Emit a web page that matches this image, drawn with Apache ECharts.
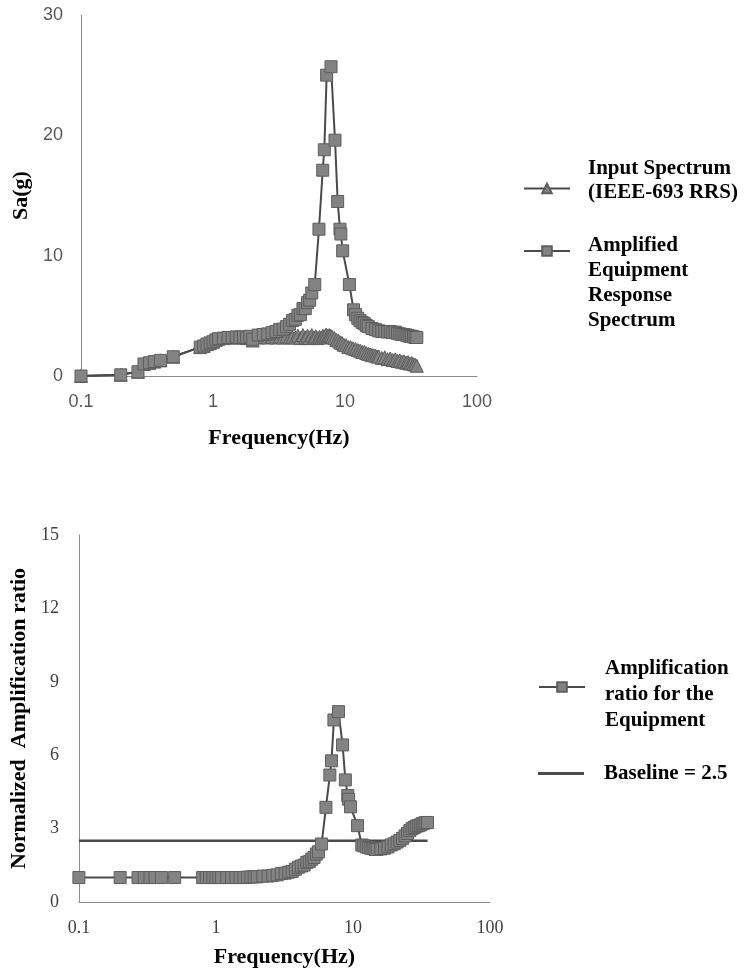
<!DOCTYPE html>
<html>
<head>
<meta charset="utf-8">
<script src="https://cdn.jsdelivr.net/npm/echarts@6/dist/echarts.min.js"></script>
<style>
  html, body { margin: 0; padding: 0; background: #ffffff; }
  #chart { width: 751px; height: 976px; }
</style>
</head>
<body>
<div id="chart"></div>
<script>
// Input spectrum (IEEE-693 RRS), Sa in g
const inputFreq = [0.1, 0.2, 0.27, 0.3, 0.33, 0.36, 0.4, 0.5, 0.8, 0.85, 0.9, 0.95, 1.0, 1.05, 1.1,
  1.2, 1.3, 1.4, 1.5, 1.6, 1.7, 1.8, 1.9, 2.0, 2.2, 2.4, 2.6, 2.8, 3.0, 3.2, 3.4, 3.6, 3.8,
  4.0, 4.2, 4.4, 4.6, 4.8, 5.0, 5.2, 5.4, 5.6, 5.8, 6.0, 6.2, 6.4, 6.6, 6.8, 7.0, 7.2, 7.4, 7.6, 7.8, 8.0,
  8.3, 8.6, 8.9, 9.2, 9.5, 9.8, 10.2, 10.6, 11.0, 11.5, 12.0, 12.5, 13.0, 13.5, 14.0, 14.5, 15.0, 15.5,
  16, 16.5, 17, 17.5, 18, 19, 20, 21, 22, 23, 24, 25, 26, 27, 28, 29, 30, 31, 32, 33, 34, 35];
const inputSa = [0, 0.1, 0.35, 1.0, 1.1, 1.2, 1.3, 1.6, 2.4, 2.5, 2.65, 2.75, 2.85, 3.0, 3.1,
  3.15, 3.2, 3.2, 3.25, 3.2, 3.2, 3.15, 3.2, 2.95, 3.2, 3.25, 3.2, 3.25, 3.2, 3.25, 3.2, 3.3, 3.2,
  3.25, 3.2, 3.35, 3.15, 3.4, 3.2, 3.35, 3.15, 3.4, 3.2, 3.3, 3.15, 3.25, 3.2, 3.35, 3.3, 3.45, 3.35, 3.4, 3.35, 3.25,
  3.15, 3.0, 2.95, 2.8, 2.75, 2.6, 2.55, 2.4, 2.4, 2.3, 2.25, 2.15, 2.1, 2.0, 2.0, 1.9, 1.85, 1.8,
  1.75, 1.72, 1.7, 1.62, 1.62, 1.5, 1.55, 1.4, 1.45, 1.32, 1.38, 1.25, 1.3, 1.18, 1.22, 1.1, 1.15, 1.03, 1.08, 0.98, 0.95, 0.85];

// Equipment response: spectrum (g) and normalized amplification ratio
const respFreq = [0.1, 0.2, 0.27, 0.3, 0.33, 0.36, 0.4, 0.5, 0.8, 0.85, 0.9, 0.95, 1.0, 1.05, 1.1,
  1.2, 1.3, 1.4, 1.5, 1.6, 1.7, 1.8, 1.9, 2.0, 2.2, 2.4, 2.6, 2.8, 3.0, 3.2, 3.4, 3.6, 3.8,
  4.0, 4.2, 4.4, 4.6, 4.8, 5.0, 5.2, 5.4, 5.6, 5.9, 6.35, 6.78, 6.97, 7.26, 7.84, 8.4, 8.8, 9.16, 9.3,
  9.6, 10.8, 11.6, 12.0, 12.5, 13.0, 13.5, 14.0, 14.5, 15.0, 16, 17, 18, 19, 20, 21, 22, 23, 24, 25,
  26, 27, 28, 29, 30, 31, 32, 33, 34, 35];
const respSa = [0, 0.1, 0.35, 1.0, 1.1, 1.2, 1.3, 1.6, 2.4, 2.5, 2.65, 2.75, 2.85, 3.0, 3.1,
  3.15, 3.2, 3.2, 3.25, 3.2, 3.25, 3.2, 3.3, 3.05, 3.4, 3.45, 3.5, 3.6, 3.7, 3.85, 3.9, 4.1, 4.3,
  4.6, 4.7, 5.05, 5.1, 5.6, 5.6, 6.1, 6.3, 6.9, 7.6, 12.2, 17.1, 18.8, 25.0, 25.7, 19.6, 14.5, 12.2, 11.8,
  10.4, 7.6, 5.5, 5.1, 4.8, 4.6, 4.45, 4.35, 4.2, 4.1, 3.95, 3.85, 3.75, 3.7, 3.7, 3.65, 3.7, 3.6, 3.65, 3.55,
  3.5, 3.45, 3.45, 3.4, 3.35, 3.3, 3.3, 3.25, 3.2, 3.2];
const respRatio = [1.0, 1.0, 1.0, 1.0, 1.0, 1.0, 1.0, 1.0, 1.0, 1.0, 1.0, 1.0, 1.0, 1.0, 1.0,
  1.0, 1.0, 1.0, 1.0, 1.0, 1.02, 1.02, 1.03, 1.03, 1.06, 1.06, 1.09, 1.11, 1.16, 1.18, 1.22, 1.25, 1.34,
  1.42, 1.47, 1.51, 1.62, 1.65, 1.75, 1.82, 1.96, 2.05, 2.37, 3.87, 5.19, 5.77, 7.44, 7.78, 6.42, 4.99, 4.35, 4.2,
  3.89, 3.12, 2.33, 2.3, 2.25, 2.22, 2.2, 2.18, 2.15, 2.15, 2.17, 2.2, 2.25, 2.33, 2.38, 2.45, 2.52, 2.6, 2.7, 2.8,
  2.92, 3.0, 3.05, 3.1, 3.12, 3.15, 3.2, 3.22, 3.25, 3.25];

// Reference level for the amplification ratio
const baselineFreq = [0.1, 35];
const baselineRatio = [2.5, 2.5];

const xTickLabels = ['0.1', '1', '10', '100'];

const seriesNames = {
  input: 'Input Spectrum (IEEE-693 RRS)',
  amplified: 'Amplified Equipment Response Spectrum',
  ratio: 'Amplification ratio for the Equipment',
  baseline: 'Baseline = 2.5'
};
// Legend labels wrapped over several lines
const legendLines = {};
legendLines[seriesNames.input] = ['Input Spectrum', '(IEEE-693 RRS)'];
legendLines[seriesNames.amplified] = ['Amplified', 'Equipment', 'Response', 'Spectrum'];
legendLines[seriesNames.ratio] = ['Amplification', 'ratio for the', 'Equipment'];
legendLines[seriesNames.baseline] = ['Baseline = 2.5'];

function pairs(xs, ys) { return xs.map((x, i) => [x, ys[i]]); }

const markerStyle = { color: '#838383', borderColor: '#5e5e5e', borderWidth: 1 };
const curveLine = { color: '#4a4a4a', width: 2 };
const serif = 'Liberation Serif';

function logLabel(v) {
  const k = Math.round(Math.log10(v)) + 1;
  return xTickLabels[k] !== undefined ? xTickLabels[k] : '';
}

function xAxisFor(gridIndex, font, color, gap) {
  return {
    type: 'log', logBase: 10, gridIndex: gridIndex, min: 0.1, max: 100,
    name: 'Frequency(Hz)', nameLocation: 'middle', nameGap: gap,
    nameTextStyle: { fontFamily: serif, fontWeight: 'bold', fontSize: 22, color: '#000' },
    axisLine: { show: true, lineStyle: { color: '#8c8c8c', width: 1 } },
    axisTick: { show: false }, splitLine: { show: false }, minorTick: { show: false },
    axisLabel: { fontFamily: font, fontSize: 18, color: color, margin: 17, formatter: logLabel }
  };
}

// One legend block per series; spacer lines shift the text relative to the icon
function legendFor(name, left, top, lineH, padTop, padBottom, padLeft, extra) {
  const lines = legendLines[name].map(s => '{t|' + s + '}');
  if (padTop > 0) lines.unshift('{s|}');
  if (padBottom > 0) lines.push('{b|}');
  return Object.assign({
    data: [name], left: left, top: top, orient: 'vertical', padding: 0,
    itemWidth: 46, itemHeight: 12, selectedMode: false,
    formatter: () => lines.join('\n'),
    textStyle: {
      padding: [0, 0, 0, padLeft],
      rich: {
        t: { fontFamily: serif, fontWeight: 'bold', fontSize: 21, color: '#000', lineHeight: lineH },
        s: { fontSize: 1, lineHeight: padTop, height: padTop },
        b: { fontSize: 1, lineHeight: padBottom, height: padBottom }
      }
    }
  }, extra || {});
}

const chart = echarts.init(document.getElementById('chart'), null, { renderer: 'canvas' });

chart.setOption({
  animation: false,
  backgroundColor: '#ffffff',
  grid: [
    { left: 81, top: 15, width: 396, height: 361 },
    { left: 75, top: 535, width: 415, height: 367 }
  ],
  xAxis: [
    xAxisFor(0, 'Liberation Sans', '#595959', 51),
    xAxisFor(1, serif, '#404040', 44)
  ],
  yAxis: [
    {
      type: 'value', gridIndex: 0, min: 0, max: 30, interval: 10,
      name: 'Sa(g)', nameLocation: 'middle', nameGap: 45,
      nameTextStyle: { fontFamily: serif, fontWeight: 'bold', fontSize: 22, color: '#000' },
      axisLine: { show: true, lineStyle: { color: '#8c8c8c', width: 1 } },
      axisTick: { show: false }, splitLine: { show: false },
      axisLabel: { fontFamily: 'Liberation Sans', fontSize: 18, color: '#595959', margin: 18 }
    },
    {
      type: 'value', gridIndex: 1, min: 0, max: 15, interval: 3,
      name: 'Normalized  Amplification ratio', nameLocation: 'middle', nameGap: 45,
      nameTextStyle: { fontFamily: serif, fontWeight: 'bold', fontSize: 22, color: '#000' },
      axisLine: { show: true, lineStyle: { color: '#8c8c8c', width: 1 } },
      axisTick: { show: false }, splitLine: { show: false },
      axisLabel: { fontFamily: serif, fontSize: 18, color: '#404040', margin: 20 }
    }
  ],
  legend: [
    legendFor(seriesNames.input, 523, 158, 24, 0, 16, 13),
    legendFor(seriesNames.amplified, 523, 169, 25, 64, 0, 13),
    legendFor(seriesNames.ratio, 538, 640, 26, 16, 0, 15),
    legendFor(seriesNames.baseline, 538, 763, 26, 0, 0, 15,
      { icon: 'rect', itemHeight: 3, itemStyle: { color: '#4a4a4a' } })
  ],
  series: [
    {
      name: seriesNames.input, type: 'line', xAxisIndex: 0, yAxisIndex: 0,
      data: pairs(inputFreq, inputSa),
      symbol: 'triangle', symbolSize: 13, showSymbol: true, showAllSymbol: true,
      itemStyle: markerStyle, lineStyle: curveLine, z: 2
    },
    {
      name: seriesNames.amplified, type: 'line', xAxisIndex: 0, yAxisIndex: 0,
      data: pairs(respFreq, respSa),
      symbol: 'rect', symbolSize: 12, showSymbol: true, showAllSymbol: true,
      itemStyle: markerStyle, lineStyle: curveLine, z: 3
    },
    {
      name: seriesNames.baseline, type: 'line', xAxisIndex: 1, yAxisIndex: 1,
      data: pairs(baselineFreq, baselineRatio),
      symbol: 'none', itemStyle: { color: '#4a4a4a' },
      lineStyle: { color: '#4a4a4a', width: 2.5 }, z: 2
    },
    {
      name: seriesNames.ratio, type: 'line', xAxisIndex: 1, yAxisIndex: 1,
      data: pairs(respFreq, respRatio),
      symbol: 'rect', symbolSize: 12, showSymbol: true, showAllSymbol: true,
      itemStyle: markerStyle, lineStyle: curveLine, z: 3
    }
  ]
});
</script>
</body>
</html>
